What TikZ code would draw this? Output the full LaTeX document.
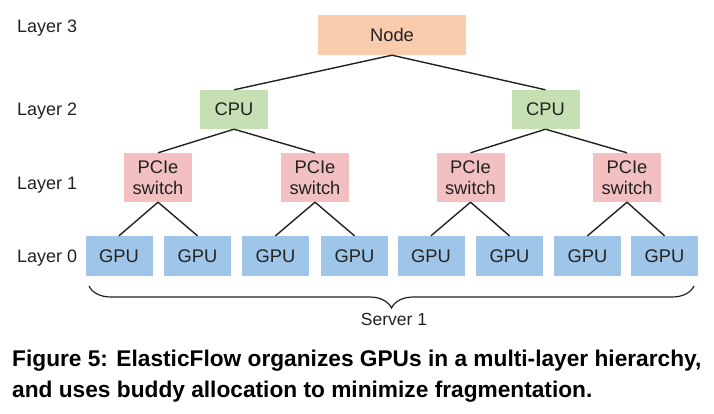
\documentclass[tikz,border=0pt]{standalone}
\usepackage{fontspec}
\setmainfont{Liberation Sans}
\usetikzlibrary{decorations.pathreplacing}
\definecolor{cnode}{HTML}{F8CBAD}
\definecolor{ccpu}{HTML}{C6E0B4}
\definecolor{cpcie}{HTML}{F2C0C0}
\definecolor{cgpu}{HTML}{9FC5E8}
\definecolor{ctext}{HTML}{222222}
\begin{document}
\begin{tikzpicture}[x=1pt,y=-1pt,
  box/.style={draw=none,inner sep=0pt,align=center,text=ctext,
    font=\fontsize{18.3}{21.5}\selectfont},
  nodebox/.style={box,fill=cnode,minimum width=148pt,minimum height=40pt},
  cpubox/.style={box,fill=ccpu,minimum width=68pt,minimum height=39pt},
  pciebox/.style={box,fill=cpcie,minimum width=68pt,minimum height=49pt},
  gpubox/.style={box,fill=cgpu,minimum width=67pt,minimum height=40pt},
  layerlbl/.style={anchor=west,inner sep=0pt,text=ctext,font=\fontsize{18}{21}\selectfont},
  link/.style={draw=ctext,line width=1.4pt},
  caplbl/.style={anchor=base west,inner sep=0pt,text=black,font=\bfseries\fontsize{22.7}{27}\selectfont}]
\useasboundingbox (0,0) rectangle (714,413);

% layer labels
\node[layerlbl] (l3) at (17,28) {Layer 3};
\node[layerlbl] (l2) at (17,111) {Layer 2};
\node[layerlbl] (l1) at (17,185) {Layer 1};
\node[layerlbl] (l0) at (17,258) {Layer 0};

% boxes
\node[nodebox] (root) at (392,35) {Node};
\node[cpubox] (cpuA) at (234,109.5) {CPU};
\node[cpubox] (cpuB) at (545.5,109.5) {CPU};
\node[pciebox] (p1) at (158,177.5) {PCIe\\switch};
\node[pciebox] (p2) at (315,177.5) {PCIe\\switch};
\node[pciebox] (p3) at (470.5,177.5) {PCIe\\switch};
\node[pciebox] (p4) at (627,177.5) {PCIe\\switch};
\node[gpubox] (g1) at (119,256) {GPU};
\node[gpubox] (g2) at (197.5,256) {GPU};
\node[gpubox] (g3) at (275.5,256) {GPU};
\node[gpubox] (g4) at (354.5,256) {GPU};
\node[gpubox] (g5) at (431,256) {GPU};
\node[gpubox] (g6) at (509.5,256) {GPU};
\node[gpubox] (g7) at (587.5,256) {GPU};
\node[gpubox] (g8) at (664.5,256) {GPU};

% links
\draw[link] (root.south) -- (cpuA.north);
\draw[link] (root.south) -- (cpuB.north);
\draw[link] (cpuA.south) -- (p1.north);
\draw[link] (cpuA.south) -- (p2.north);
\draw[link] (cpuB.south) -- (p3.north);
\draw[link] (cpuB.south) -- (p4.north);
\draw[link] (p1.south) -- (g1.north);
\draw[link] (p1.south) -- (g2.north);
\draw[link] (p2.south) -- (g3.north);
\draw[link] (p2.south) -- (g4.north);
\draw[link] (p3.south) -- (g5.north);
\draw[link] (p3.south) -- (g6.north);
\draw[link] (p4.south) -- (g7.north);
\draw[link] (p4.south) -- (g8.north);

% brace
\coordinate (bl) at (89,286);
\coordinate (br) at (694,286);
\draw[ctext,line width=1.2pt,decorate,decoration={brace,amplitude=22pt,mirror}] (bl) -- (br);
\node[inner sep=0pt,text=ctext,font=\fontsize{17.5}{20}\selectfont] (srv) at (394,319) {Server 1};

% caption
\node[caplbl] (cap1) at (12,366) {Figure 5: ElasticFlow organizes GPUs in a multi-layer hierarchy,};
\node[caplbl] (cap2) at (12,397) {and uses buddy allocation to minimize fragmentation.};
\end{tikzpicture}
\end{document}
